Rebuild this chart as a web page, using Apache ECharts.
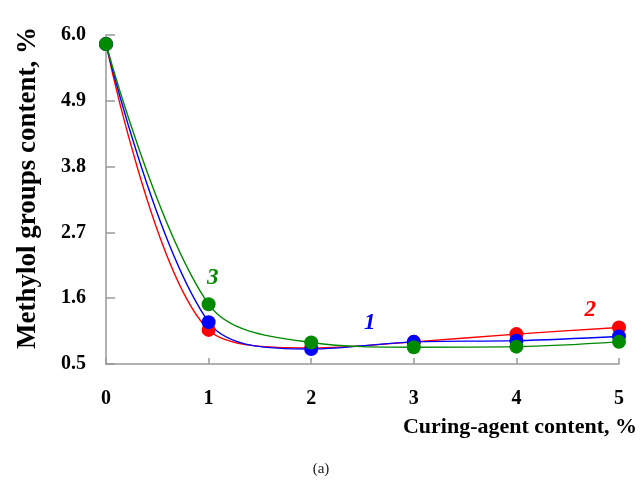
<!DOCTYPE html>
<html>
<head>
<meta charset="utf-8">
<script src="https://cdn.jsdelivr.net/npm/echarts@6/dist/echarts.min.js"></script>
<style>
  html, body { margin: 0; padding: 0; background: #fff; }
  #chart { width: 642px; height: 492px; }
</style>
</head>
<body>
<div id="chart"></div>
<script>
// curing-agent content, %
var xValues = [0, 1, 2, 3, 4, 5];
// methylol groups content, % (curves 1, 2, 3)
var curve1 = [5.85, 1.20, 0.75, 0.87, 0.89, 0.96];
var curve2 = [5.85, 1.07, 0.77, 0.87, 1.00, 1.11];
var curve3 = [5.85, 1.50, 0.86, 0.78, 0.79, 0.87];
var yTicks = ['0.5', '1.6', '2.7', '3.8', '4.9', '6.0'];
var curveLabels = [
  { name: '1', x: 2.57, y: 1.19 },
  { name: '2', x: 4.72, y: 1.41 },
  { name: '3', x: 1.04, y: 1.94 }
];

var font = '"Liberation Serif", "Times New Roman", serif';

function pairs(ys) {
  return xValues.map(function (x, i) { return [x, ys[i]]; });
}

function curve(name, color, ys, lbl) {
  return {
    name: name,
    type: 'line',
    smooth: 0.35,
    data: pairs(ys),
    symbol: 'circle',
    symbolSize: 14,
    color: color,
    lineStyle: { width: 1.4, color: color },
    itemStyle: { color: color },
    markPoint: {
      symbol: 'circle',
      symbolSize: 1,
      itemStyle: { color: 'rgba(0,0,0,0)' },
      data: [{
        coord: [lbl.x, lbl.y],
        label: {
          show: true,
          position: 'inside',
          formatter: lbl.name,
          color: color,
          fontFamily: font,
          fontStyle: 'italic',
          fontWeight: 'bold',
          fontSize: 23
        }
      }]
    }
  };
}

var chart = echarts.init(document.getElementById('chart'));
var option = {
  animation: false,
  title: {
    text: '(a)',
    left: 'center',
    top: 457,
    textStyle: { fontFamily: font, fontWeight: 'normal', fontSize: 15, color: '#222' }
  },
  grid: { left: 106, right: 23, top: 35, bottom: 128 },
  xAxis: {
    type: 'value',
    min: 0,
    max: 5,
    interval: 1,
    splitLine: { show: false },
    axisLine: { lineStyle: { color: '#999', width: 1.5 } },
    axisTick: { inside: true, length: 6, lineStyle: { color: '#999', width: 1.5 } },
    axisLabel: { margin: 25, color: '#000', fontFamily: font, fontWeight: 'bold', fontSize: 20 }
  },
  yAxis: {
    type: 'value',
    min: 0.5,
    max: 6.0,
    interval: 1.1,
    splitLine: { show: false },
    axisLine: { show: true, lineStyle: { color: '#999', width: 1.5 } },
    axisTick: { show: true, inside: true, length: 9, lineStyle: { color: '#999', width: 1.5 } },
    axisLabel: {
      margin: 20,
      color: '#000',
      fontFamily: font,
      fontWeight: 'bold',
      fontSize: 20,
      formatter: function (v) {
        var s = v.toFixed(1);
        return yTicks.indexOf(s) >= 0 ? s : '';
      }
    }
  },
  graphic: [{
    type: 'text',
    right: 5,
    top: 416,
    style: {
      text: 'Curing-agent content, %',
      fill: '#000',
      font: 'bold 22px ' + font
    }
  }, {
    type: 'text',
    x: 28,
    y: 188,
    rotation: Math.PI / 2,
    style: {
      text: 'Methylol groups content, %',
      fill: '#000',
      font: 'bold 27px ' + font,
      align: 'center',
      verticalAlign: 'middle'
    }
  }],
  series: [
    curve('2', '#ff0000', curve2, curveLabels[1]),
    curve('1', '#0000ff', curve1, curveLabels[0]),
    curve('3', '#008a00', curve3, curveLabels[2])
  ]
};
chart.setOption(option);
</script>
</body>
</html>
